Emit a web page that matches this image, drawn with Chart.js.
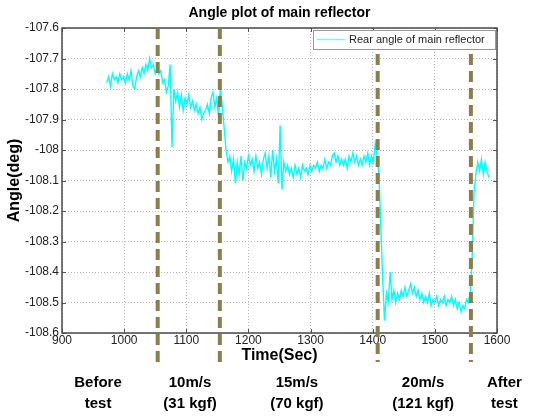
<!DOCTYPE html>
<html>
<head>
<meta charset="utf-8">
<script src="https://cdn.jsdelivr.net/npm/chart.js@4.4.0/dist/chart.umd.min.js"></script>
<style>
body { margin: 0; background: #fff; }
</style>
</head>
<body>
<canvas id="graficoAngulo" width="536" height="417"></canvas>
<script>
// Datos: angulo trasero del reflector, muestreado cada 3 s desde t = 972 s
var tInicio = 972;
var tPaso = 3;
var angulo = [
    -107.78, -107.76, -107.79, -107.75, -107.77, -107.76, -107.78, -107.75, -107.77, -107.76,
    -107.78, -107.75, -107.77, -107.74, -107.79, -107.80, -107.76, -107.74, -107.76, -107.73,
    -107.75, -107.72, -107.74, -107.70, -107.73, -107.72, -107.75, -107.73, -107.75, -107.74,
    -107.78, -107.77, -107.81, -107.79, -107.72, -107.99, -107.80, -107.84, -107.81, -107.86,
    -107.82, -107.87, -107.83, -107.85, -107.82, -107.86, -107.84, -107.87, -107.85, -107.88,
    -107.86, -107.90, -107.88, -107.87, -107.85, -107.88, -107.83, -107.81, -107.86, -107.83,
    -107.89, -107.79, -107.86, -107.93, -108.00, -108.04, -108.02, -108.07, -108.03, -108.11,
    -108.04, -108.08, -108.02, -108.10, -108.04, -108.06, -108.02, -108.05, -108.03, -108.07,
    -108.02, -108.06, -108.04, -108.08, -108.03, -108.01, -108.06, -108.02, -108.09, -108.00,
    -108.07, -108.03, -108.11, -107.92, -108.13, -108.04, -108.07, -108.05, -108.08, -108.06,
    -108.09, -108.05, -108.08, -108.06, -108.09, -108.05, -108.07, -108.06, -108.08, -108.05,
    -108.07, -108.05, -108.06, -108.04, -108.07, -108.05, -108.06, -108.03, -108.06, -108.04,
    -108.05, -108.02, -108.01, -108.04, -108.02, -108.05, -108.03, -108.05, -108.03, -108.06,
    -108.02, -108.04, -108.01, -108.04, -108.02, -108.05, -108.03, -108.05, -108.02, -108.04,
    -108.01, -108.05, -108.02, -108.04, -107.98, -108.02, -108.08, -108.25, -108.42, -108.56,
    -108.47, -108.50, -108.40, -108.49, -108.46, -108.50, -108.47, -108.49, -108.46, -108.48,
    -108.45, -108.48, -108.46, -108.44, -108.47, -108.45, -108.48, -108.46, -108.49, -108.47,
    -108.50, -108.48, -108.50, -108.47, -108.51, -108.49, -108.50, -108.48, -108.51, -108.49,
    -108.50, -108.48, -108.51, -108.49, -108.50, -108.48, -108.51, -108.49, -108.52, -108.50,
    -108.53, -108.51, -108.52, -108.49, -108.50, -108.47, -108.35, -108.14, -108.08, -108.04,
    -108.07, -108.03, -108.08, -108.04, -108.07, -108.09
];

// Ejes
var xTicks = [900, 1000, 1100, 1200, 1300, 1400, 1500, 1600];
var yTicks = [-107.6, -107.7, -107.8, -107.9, -108.0, -108.1, -108.2, -108.3, -108.4, -108.5, -108.6];

// Limites entre etapas de la prueba (seg)
var limites = [1054, 1154, 1408, 1558];

// Etiquetas de etapas, centradas en el tiempo indicado
var etapas = [
    { t: 958,  l1: "Before", l2: "test" },
    { t: 1106, l1: "10m/s",  l2: "(31 kgf)" },
    { t: 1278, l1: "15m/s",  l2: "(70 kgf)" },
    { t: 1481, l1: "20m/s",  l2: "(121 kgf)" },
    { t: 1612, l1: "After",  l2: "test" }
];

var puntos = angulo.map(function(v, i) {
    return { x: tInicio + tPaso * i, y: v };
});

var FUENTE = '"Liberation Sans", Arial, sans-serif';

// Marco, leyenda, lineas de etapas y textos
var decoracion = {
    id: 'decoracion',
    afterDatasetsDraw: function(chart) {
        var ctx = chart.ctx;
        var a = chart.chartArea;
        var xs = chart.scales.x;
        var ys = chart.scales.y;

        ctx.save();

        // marcas de eje hacia adentro
        ctx.strokeStyle = '#555';
        ctx.lineWidth = 1;
        xTicks.forEach(function(t) {
            var x = Math.round(xs.getPixelForValue(t)) + 0.5;
            ctx.beginPath();
            ctx.moveTo(x, a.bottom); ctx.lineTo(x, a.bottom - 4);
            ctx.moveTo(x, a.top); ctx.lineTo(x, a.top + 4);
            ctx.stroke();
        });
        yTicks.forEach(function(v) {
            var y = Math.round(ys.getPixelForValue(v)) + 0.5;
            ctx.beginPath();
            ctx.moveTo(a.left, y); ctx.lineTo(a.left + 4, y);
            ctx.moveTo(a.right, y); ctx.lineTo(a.right - 4, y);
            ctx.stroke();
        });

        // marco
        ctx.strokeStyle = '#4a4a4a';
        ctx.lineWidth = 1.5;
        ctx.strokeRect(a.left, a.top, a.right - a.left, a.bottom - a.top);

        // leyenda
        var lx = a.right - 184, ly = a.top + 2;
        ctx.fillStyle = '#fff';
        ctx.fillRect(lx, ly, 182, 19);
        ctx.strokeStyle = '#999';
        ctx.lineWidth = 1;
        ctx.strokeRect(lx + 0.5, ly + 0.5, 182, 19);
        ctx.strokeStyle = '#66ffff';
        ctx.lineWidth = 1.5;
        ctx.beginPath();
        ctx.moveTo(lx + 4, ly + 9.5); ctx.lineTo(lx + 32, ly + 9.5);
        ctx.stroke();
        ctx.fillStyle = '#222';
        ctx.font = '11px ' + FUENTE;
        ctx.textAlign = 'left';
        ctx.textBaseline = 'middle';
        ctx.fillText(chart.data.datasets[0].label, lx + 36, ly + 10);

        // lineas de etapas
        ctx.strokeStyle = '#8c7e4a';
        ctx.lineWidth = 4;
        ctx.setLineDash([11, 6]);
        limites.forEach(function(t, i) {
            var x = xs.getPixelForValue(t);
            ctx.beginPath();
            ctx.moveTo(x, i < 2 ? a.top : a.top + 26);
            ctx.lineTo(x, a.bottom + 29);
            ctx.stroke();
        });
        ctx.setLineDash([]);

        // titulos
        ctx.fillStyle = '#000';
        ctx.textAlign = 'center';
        ctx.font = 'bold 14px ' + FUENTE;
        ctx.fillText('Angle plot of main reflector', (a.left + a.right) / 2, 13);
        ctx.font = 'bold 16px ' + FUENTE;
        ctx.fillText('Time(Sec)', (a.left + a.right) / 2, a.bottom + 23);
        ctx.save();
        ctx.translate(15, (a.top + a.bottom) / 2);
        ctx.rotate(-Math.PI / 2);
        ctx.fillText('Angle(deg)', 0, 0);
        ctx.restore();

        // etapas
        ctx.font = 'bold 15px ' + FUENTE;
        etapas.forEach(function(e) {
            var x = xs.getPixelForValue(e.t);
            ctx.fillText(e.l1, x, 383);
            ctx.fillText(e.l2, x, 404);
        });

        ctx.restore();
    }
};

var getGraficoAngulo = document.getElementById("graficoAngulo");
var graficoAngulo = new Chart(getGraficoAngulo, {
    type: 'line',
    plugins: [decoracion],
    data: {
        datasets: [{
            label: "Rear angle of main reflector",
            data: puntos,
            borderColor: "#00ffff",
            borderWidth: 1.4,
            pointRadius: 0,
            tension: 0,
            fill: false
        }]
    },
    options: {
        responsive: false,
        animation: false,
        devicePixelRatio: 1,
        layout: {
            padding: { top: 28, right: 39, left: 0, bottom: 0 }
        },
        scales: {
            x: {
                type: 'linear',
                min: 900,
                max: 1600,
                afterBuildTicks: function(axis) {
                    axis.ticks = xTicks.map(function(v) { return { value: v }; });
                },
                afterFit: function(axis) { axis.height = 84; },
                ticks: {
                    color: '#222',
                    font: { size: 12, family: FUENTE },
                    padding: 0,
                    maxRotation: 0,
                    callback: function(v) { return String(v); }
                },
                grid: { color: '#b8b8b8', drawTicks: false, lineWidth: 1 },
                border: { display: false, dash: [1, 2] }
            },
            y: {
                min: -108.6,
                max: -107.6,
                afterBuildTicks: function(axis) {
                    axis.ticks = yTicks.map(function(v) { return { value: v }; });
                },
                afterFit: function(axis) { axis.width = 62; },
                ticks: {
                    color: '#222',
                    font: { size: 12, family: FUENTE },
                    padding: 3,
                    callback: function(v) { return String(Number(v.toFixed(1))); }
                },
                grid: { color: '#b8b8b8', drawTicks: false, lineWidth: 1 },
                border: { display: false, dash: [1, 2] }
            }
        },
        plugins: {
            legend: { display: false },
            title: { display: false },
            tooltip: { enabled: false }
        }
    }
});
</script>
</body>
</html>
